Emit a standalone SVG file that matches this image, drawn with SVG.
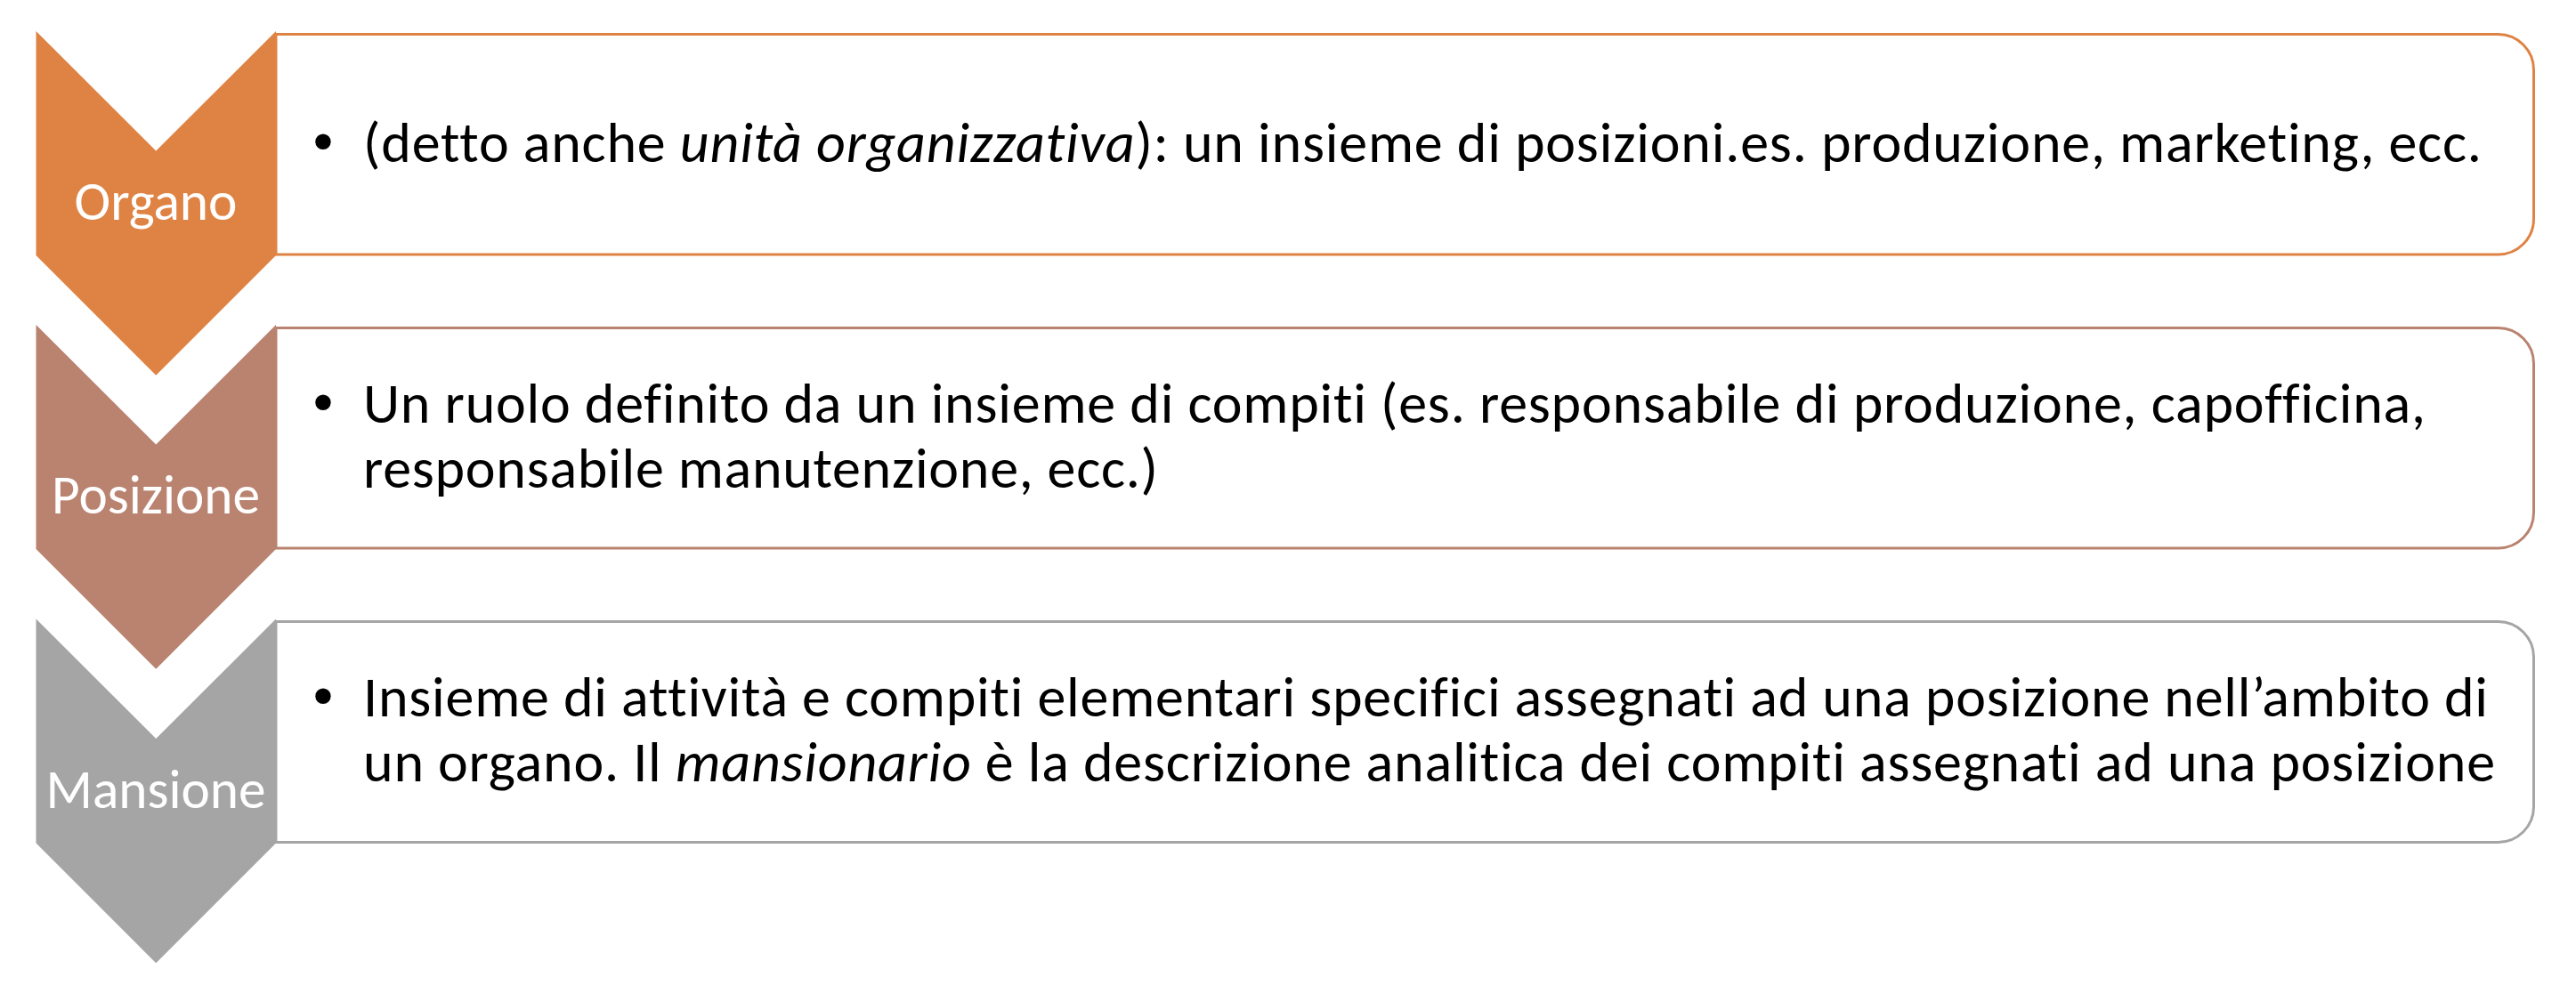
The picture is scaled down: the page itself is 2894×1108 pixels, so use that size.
<svg xmlns="http://www.w3.org/2000/svg" width="2894" height="1108" viewBox="0 0 2894 1108">
<style>
.body{font-family:Carlito,Calibri,Lato,"Open Sans",sans-serif;font-size:64px;fill:#000;font-variant-ligatures:none;font-feature-settings:"liga" 0,"clig" 0}
.lbl{font-family:Carlito,Calibri,Lato,"Open Sans",sans-serif;font-size:61px;fill:#fff;text-anchor:middle;font-variant-ligatures:none}
.bul{font-family:"DejaVu Sans",sans-serif;font-size:60px;fill:#000;text-anchor:middle}
.box{fill:#fff;stroke-width:3}
.it{font-style:italic}
</style>
<rect width="2894" height="1108" fill="#fff"/>
<g id="connectors"/>
<g id="node-organo">
<path class="box" stroke="#DF8344" d="M310,38.5 H2806.5 A40,40 0 0 1 2846.5,78.5 V246 A40,40 0 0 1 2806.5,286 H310 Z"/>
<polygon fill="#DF8344" points="40.5,35 175.25,169.5 310,35 310,287 175.25,421.7 40.5,287"/>
<text class="lbl" x="175" y="247" textLength="183" lengthAdjust="spacingAndGlyphs">Organo</text>
<text class="bul" x="363" y="182">•</text>
<text class="body" x="408" y="182" textLength="2380" lengthAdjust="spacing">(detto anche <tspan class="it">unità organizzativa</tspan>): un insieme di posizioni.es. produzione, marketing, ecc.</text>
</g>
<g id="node-posizione">
<path class="box" stroke="#B98370" d="M310,368.5 H2806.5 A40,40 0 0 1 2846.5,408.5 V576 A40,40 0 0 1 2806.5,616 H310 Z"/>
<polygon fill="#B98370" points="40.5,365 175.25,499.5 310,365 310,617 175.25,751.7 40.5,617"/>
<text class="lbl" x="175" y="577" textLength="234" lengthAdjust="spacingAndGlyphs">Posizione</text>
<text class="bul" x="363" y="475">•</text>
<text class="body" x="408" y="475" textLength="2317" lengthAdjust="spacing">Un ruolo definito da un insieme di compiti (es. responsabile di produzione, capofficina,</text>
<text class="body" x="408" y="548" textLength="893" lengthAdjust="spacing">responsabile manutenzione, ecc.)</text>
</g>
<g id="node-mansione">
<path class="box" stroke="#A5A5A5" d="M310,698.5 H2806.5 A40,40 0 0 1 2846.5,738.5 V906.5 A40,40 0 0 1 2806.5,946.5 H310 Z"/>
<polygon fill="#A5A5A5" points="40.5,695.5 175.25,830 310,695.5 310,947.5 175.25,1082.2 40.5,947.5"/>
<text class="lbl" x="175" y="907.5" textLength="247" lengthAdjust="spacingAndGlyphs">Mansione</text>
<text class="bul" x="363" y="805">•</text>
<text class="body" x="408" y="805" textLength="2387" lengthAdjust="spacing">Insieme di attività e compiti elementari specifici assegnati ad una posizione nell’ambito di</text>
<text class="body" x="408" y="878" textLength="2395" lengthAdjust="spacing">un organo. Il <tspan class="it">mansionario</tspan> è la descrizione analitica dei compiti assegnati ad una posizione</text>
</g>
</svg>
